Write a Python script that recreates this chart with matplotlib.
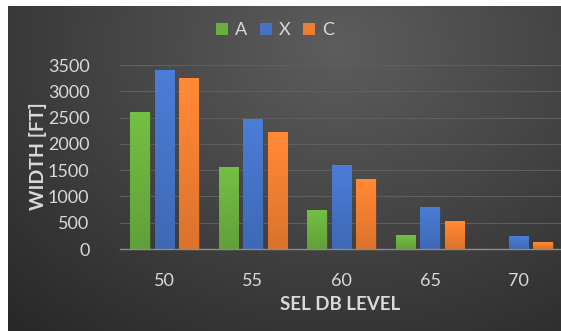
import numpy as np
import matplotlib.pyplot as plt
from matplotlib.colors import to_rgb

levels = ["50", "55", "60", "65", "70"]
series_names = ["A", "X", "C"]
width_a = [2600, 1560, 740, 260, 0]
width_x = [3400, 2470, 1600, 800, 240]
width_c = [3260, 2230, 1340, 530, 135]
colors = ["#6aae3e", "#4472c4", "#ed7d31"]

plt.rcParams['font.family'] = ['Lato', 'DejaVu Sans']
txt = "#d9d9d9"

fig = plt.figure(figsize=(5.61, 3.31), dpi=100)
fig.patch.set_facecolor("white")

# dark radial background for the chart area
bg = fig.add_axes([8 / 561, 0, 553 / 561, 325 / 331])
bg.set_axis_off()
yy, xx = np.mgrid[0:325, 0:553]
d = np.sqrt(((xx - 330) / 420.0) ** 2 + ((yy - 40) / 330.0) ** 2)
shade = np.clip(0.365 - 0.18 * d, 0.16, 0.365)
bg.imshow(np.dstack([shade] * 3), aspect="auto", extent=[0, 553, 325, 0])

ax = fig.add_axes([120 / 561, (331 - 249) / 331, 443 / 561, (249 - 65) / 331])
ax.set_facecolor("none")

x = np.arange(len(levels))
bw = 0.22
step = 0.277
for k, (vals, c) in enumerate(zip([width_a, width_x, width_c], colors)):
    bars = ax.bar(x + (k - 1) * step, vals, bw, color=c, label=series_names[k],
                  edgecolor="#3a3a3a", linewidth=0.4, zorder=3)
    base = np.array(to_rgb(c))
    grad = np.linspace(0, 1, 64)[:, None]
    img = base[None, None, :] * (1.1 - 0.18 * grad[..., None])
    img = np.clip(img, 0, 1)
    for b in bars:
        h = b.get_height()
        if h <= 0:
            continue
        im = ax.imshow(img, aspect="auto", zorder=3.5,
                       extent=[b.get_x(), b.get_x() + bw, 0, h],
                       origin="upper")
        im.set_clip_path(b)

ax.set_xlim(-0.5, 4.5)
ax.set_ylim(0, 3500)
ax.set_yticks(range(0, 3501, 500))
ax.set_xticks(x)
ax.set_xticklabels(levels)
ax.grid(axis="y", color="#5e5e5e", linewidth=0.8, zorder=0)
ax.tick_params(length=0, colors=txt, labelsize=13)
ax.tick_params(axis="y", pad=22)
ax.tick_params(axis="x", pad=17)
for s in ["top", "right", "left"]:
    ax.spines[s].set_visible(False)
ax.spines["bottom"].set_color("#8c8c8c")
ax.spines["bottom"].set_linewidth(1.0)
ax.spines["bottom"].set_zorder(4)

fig.text(38 / 561, 1 - 156 / 331, "WIDTH [FT]", rotation=90, color=txt,
         fontsize=14, fontweight="bold", ha="center", va="center")
fig.text(340 / 561, 1 - 305 / 331, "SEL DB LEVEL", color=txt,
         fontsize=13.5, fontweight="bold", ha="center", va="center")

leg = fig.legend(loc="center", bbox_to_anchor=(275 / 561, 1 - 30 / 331), ncol=3,
                 frameon=False, fontsize=13, handlelength=0.65, handleheight=0.65,
                 handletextpad=0.4, columnspacing=0.7, labelcolor=txt)
for h in leg.legend_handles:
    h.set_edgecolor("none")

fig.savefig("out.png", dpi=100)
